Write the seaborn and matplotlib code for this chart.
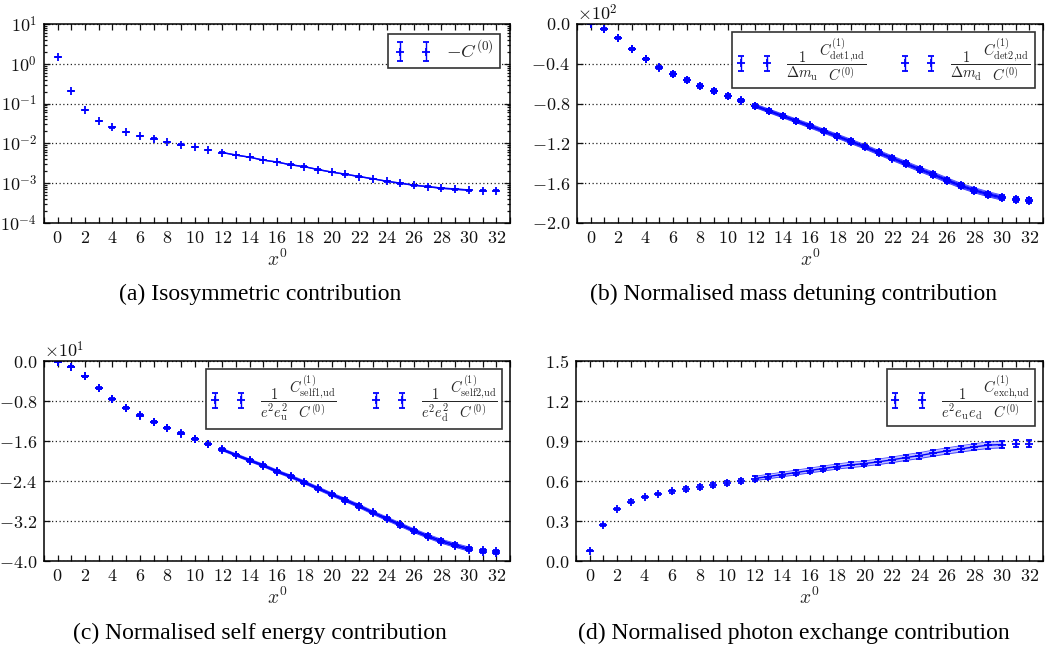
import numpy as np
import matplotlib
matplotlib.use("Agg")
import matplotlib.pyplot as plt
from matplotlib.ticker import MultipleLocator, FuncFormatter, LogLocator, NullFormatter
import seaborn as sns

# time slices
x0 = np.arange(33)
fit_lo, fit_hi = 12, 30

# (a) isosymmetric correlator -C^(0)
c0 = [1.5, 0.21, 0.070, 0.0365, 0.0253, 0.0193, 0.0153, 0.0132, 0.0108, 0.0093,
      0.0081, 0.0068, 0.0059, 0.0051, 0.0045, 0.0038, 0.0034, 0.0029, 0.0026,
      0.0022, 0.0019, 0.00168, 0.00147, 0.00129, 0.00112, 0.00100, 0.00089,
      0.00082, 0.00075, 0.00071, 0.00067, 0.00065, 0.00064]
c0_err = [0.02, 0.003, 0.001, 0.0005, 0.0004, 0.0003, 0.0002, 0.0002, 0.00015,
          0.00013, 0.00012, 0.0001, 0.00009, 0.00008, 0.00007, 0.00006, 0.00005,
          0.00005, 0.00004, 0.00004, 0.00003, 0.00003, 0.00003, 0.00002, 0.00002,
          0.00002, 0.00002, 0.00002, 0.00002, 0.00002, 0.00002, 0.00002, 0.00002]

# (b) mass detuning
det1 = [0, -5, -13.7, -25, -35, -43.5, -50, -56, -62, -67, -72, -76.6, -82, -87,
        -92, -97, -102, -107.3, -112.4, -117.7, -123, -128.8, -134.4, -140,
        -145.5, -150.8, -156.5, -162, -166.6, -170.6, -174, -176, -176.6]
det2 = [0, -5.2, -14.0, -25.3, -35.4, -44.0, -50.5, -56.6, -62.5, -67.6, -72.6,
        -77.2, -82.6, -87.6, -92.7, -97.7, -102.8, -108.1, -113.2, -118.5,
        -123.9, -129.7, -135.3, -140.9, -146.5, -151.8, -157.5, -163.0, -167.6,
        -171.6, -175.0, -177.0, -177.5]
det_err = [0.3, 0.5, 0.8, 1.0, 1.1, 1.2, 1.3, 1.3, 1.4, 1.4, 1.5, 1.5, 1.5, 1.6,
           1.6, 1.6, 1.7, 1.7, 1.7, 1.8, 1.8, 1.8, 1.9, 1.9, 1.9, 2.0, 2.0, 2.0,
           2.1, 2.1, 2.1, 2.2, 2.2]

# (c) self energy
self1 = [-0.13, -1.1, -3.0, -5.4, -7.55, -9.3, -10.8, -12.1, -13.3, -14.4,
         -15.5, -16.56, -17.63, -18.7, -19.77, -20.8, -21.97, -23.0, -24.17,
         -25.37, -26.57, -27.7, -28.9, -30.2, -31.4, -32.6, -33.8, -34.9,
         -35.9, -36.7, -37.46, -37.86, -38.0]
self2 = [-0.13, -1.12, -3.05, -5.45, -7.62, -9.38, -10.9, -12.2, -13.4, -14.5,
         -15.6, -16.68, -17.76, -18.84, -19.92, -20.96, -22.14, -23.18, -24.36,
         -25.57, -26.78, -27.92, -29.13, -30.44, -31.65, -32.86, -34.07, -35.18,
         -36.19, -37.0, -37.76, -38.16, -38.3]
self_err = [0.05, 0.08, 0.1, 0.12, 0.13, 0.14, 0.15, 0.15, 0.16, 0.16, 0.17,
            0.17, 0.18, 0.18, 0.19, 0.19, 0.2, 0.2, 0.21, 0.21, 0.22, 0.22,
            0.23, 0.23, 0.24, 0.24, 0.25, 0.25, 0.26, 0.26, 0.27, 0.27, 0.28]

# (d) photon exchange
exch = [0.078, 0.268, 0.388, 0.446, 0.481, 0.503, 0.523, 0.541, 0.558, 0.573,
        0.586, 0.601, 0.619, 0.634, 0.649, 0.664, 0.679, 0.694, 0.709, 0.721,
        0.731, 0.744, 0.759, 0.776, 0.791, 0.809, 0.826, 0.841, 0.856, 0.869,
        0.874, 0.881, 0.881]
exch_err = [0.006, 0.006, 0.008, 0.009, 0.010, 0.011, 0.012, 0.013, 0.014,
            0.015, 0.015, 0.016, 0.016, 0.017, 0.017, 0.018, 0.018, 0.019,
            0.019, 0.020, 0.020, 0.021, 0.021, 0.022, 0.022, 0.023, 0.023,
            0.024, 0.024, 0.025, 0.025, 0.026, 0.026]

captions = ["(a) Isosymmetric contribution",
            "(b) Normalised mass detuning contribution",
            "(c) Normalised self energy contribution",
            "(d) Normalised photon exchange contribution"]

lab_c0 = r"$-C^{(0)}$"
lab_det1 = r"$\dfrac{1}{\Delta m_\mathrm{u}}\dfrac{C^{(1)}_\mathrm{det1{,}ud}}{C^{(0)}}$"
lab_det2 = r"$\dfrac{1}{\Delta m_\mathrm{d}}\dfrac{C^{(1)}_\mathrm{det2{,}ud}}{C^{(0)}}$"
lab_self1 = r"$\dfrac{1}{e^2e_\mathrm{u}^2}\dfrac{C^{(1)}_\mathrm{self1{,}ud}}{C^{(0)}}$"
lab_self2 = r"$\dfrac{1}{e^2e_\mathrm{d}^2}\dfrac{C^{(1)}_\mathrm{self2{,}ud}}{C^{(0)}}$"
lab_exch = r"$\dfrac{1}{e^2e_\mathrm{u}e_\mathrm{d}}\dfrac{C^{(1)}_\mathrm{exch{,}ud}}{C^{(0)}}$"

sns.set_theme(style="ticks")
plt.rcParams["font.family"] = ["Liberation Serif", "DejaVu Serif"]
plt.rcParams["mathtext.fontset"] = "cm"

BLUE = "#0000ff"
fig = plt.figure(figsize=(10.62, 6.45), dpi=100)

pos = [[0.0414, 0.6543, 0.4388, 0.3085],
       [0.5433, 0.6543, 0.4388, 0.3085],
       [0.0414, 0.1302, 0.4388, 0.3100],
       [0.5424, 0.1302, 0.4397, 0.3100]]
axes = [fig.add_axes(p) for p in pos]


def series(ax, y, err):
    y = np.asarray(y, float)
    err = np.asarray(err, float)
    xs = x0[fit_lo:fit_hi + 1]
    ys = y[fit_lo:fit_hi + 1]
    es = err[fit_lo:fit_hi + 1]
    ax.fill_between(xs, ys - es, ys + es, color=BLUE, alpha=0.25, lw=0)
    ax.plot(xs, ys - es, color=BLUE, lw=0.6, alpha=0.7)
    ax.plot(xs, ys + es, color=BLUE, lw=0.6, alpha=0.7)
    sns.lineplot(x=xs, y=ys, ax=ax, color=BLUE, lw=1.0, legend=False)
    eb = ax.errorbar(x0, y, yerr=err, fmt="+", color=BLUE, ms=6, mew=1.3,
                     elinewidth=1.0, capsize=2.5, capthick=1.0)
    return eb


def style(ax):
    ax.set_xlim(-1, 33)
    ax.xaxis.set_major_locator(MultipleLocator(2))
    ax.xaxis.set_minor_locator(MultipleLocator(1))
    ax.xaxis.set_major_formatter(FuncFormatter(lambda v, p: r"$%d$" % round(v)))
    ax.tick_params(which="both", direction="in", top=True, right=True,
                   labelsize=13, colors="#111111", width=0.9)
    ax.tick_params(which="major", length=4, pad=5)
    ax.tick_params(which="minor", length=4)
    ax.yaxis.grid(True, which="major", linestyle=(0, (1, 2)), color="#222222", lw=0.9)
    ax.set_axisbelow(True)
    for s in ax.spines.values():
        s.set_color("black")
        s.set_linewidth(1.1)
    ax.set_xlabel(r"$x^0$", fontsize=14, labelpad=1)


def legend(ax, handles, labels, ncol, fs, hl, tp, cs=2.0):
    lg = ax.legend(handles, labels, loc="upper right", ncol=ncol, numpoints=2,
                   fancybox=False, framealpha=1, edgecolor="#333333",
                   fontsize=fs, handlelength=hl, columnspacing=cs,
                   borderaxespad=0.55, handletextpad=tp, borderpad=0.3)
    lg.get_frame().set_linewidth(1.2)


# (a)
ax = axes[0]
ax.set_yscale("log")
h = series(ax, c0, c0_err)
ax.set_ylim(1e-4, 1e1)
ax.yaxis.set_major_locator(LogLocator(base=10, numticks=10))
ax.yaxis.set_minor_locator(LogLocator(base=10, subs=np.arange(2, 10), numticks=20))
ax.yaxis.set_minor_formatter(NullFormatter())
ax.yaxis.set_major_formatter(FuncFormatter(lambda v, p: r"$10^{%d}$" % round(np.log10(v))))
style(ax)
ax.tick_params(axis="y", which="minor", length=2)
legend(ax, [h], [lab_c0], 1, 13.5, 2.0, 0.8)

# (b)
ax = axes[1]
h1 = series(ax, det1, det_err)
h2 = series(ax, det2, det_err)
ax.set_ylim(-200, 0)
ax.yaxis.set_major_locator(MultipleLocator(40))
ax.yaxis.set_major_formatter(FuncFormatter(lambda v, p: r"$%.1f$" % (v / 100)))
style(ax)
ax.text(0.0, 1.0, r"$\times10^{2}$", transform=ax.transAxes, fontsize=13,
        va="bottom", ha="left", color="#111111")
legend(ax, [h1, h2], [lab_det1, lab_det2], 2, 10.5, 2.4, 1.0, 2.4)

# (c)
ax = axes[2]
h1 = series(ax, self1, self_err)
h2 = series(ax, self2, self_err)
ax.set_ylim(-40, 0)
ax.yaxis.set_major_locator(MultipleLocator(8))
ax.yaxis.set_major_formatter(FuncFormatter(lambda v, p: r"$%.1f$" % (v / 10)))
style(ax)
ax.text(0.0, 1.0, r"$\times10^{1}$", transform=ax.transAxes, fontsize=13,
        va="bottom", ha="left", color="#111111")
legend(ax, [h1, h2], [lab_self1, lab_self2], 2, 10.5, 2.4, 1.0, 2.4)

# (d)
ax = axes[3]
h = series(ax, exch, exch_err)
ax.set_ylim(0, 1.5)
ax.yaxis.set_major_locator(MultipleLocator(0.3))
ax.yaxis.set_major_formatter(FuncFormatter(lambda v, p: r"$%.1f$" % v))
style(ax)
legend(ax, [h], [lab_exch], 1, 10.5, 2.4, 1.0)

cap_xy = [(0.245, 0.543), (0.747, 0.543), (0.245, 0.018), (0.747, 0.018)]
for (cx, cy), txt in zip(cap_xy, captions):
    fig.text(cx, cy, txt, ha="center", va="center", fontsize=17, color="black")

fig.savefig("out.png", dpi=100)
